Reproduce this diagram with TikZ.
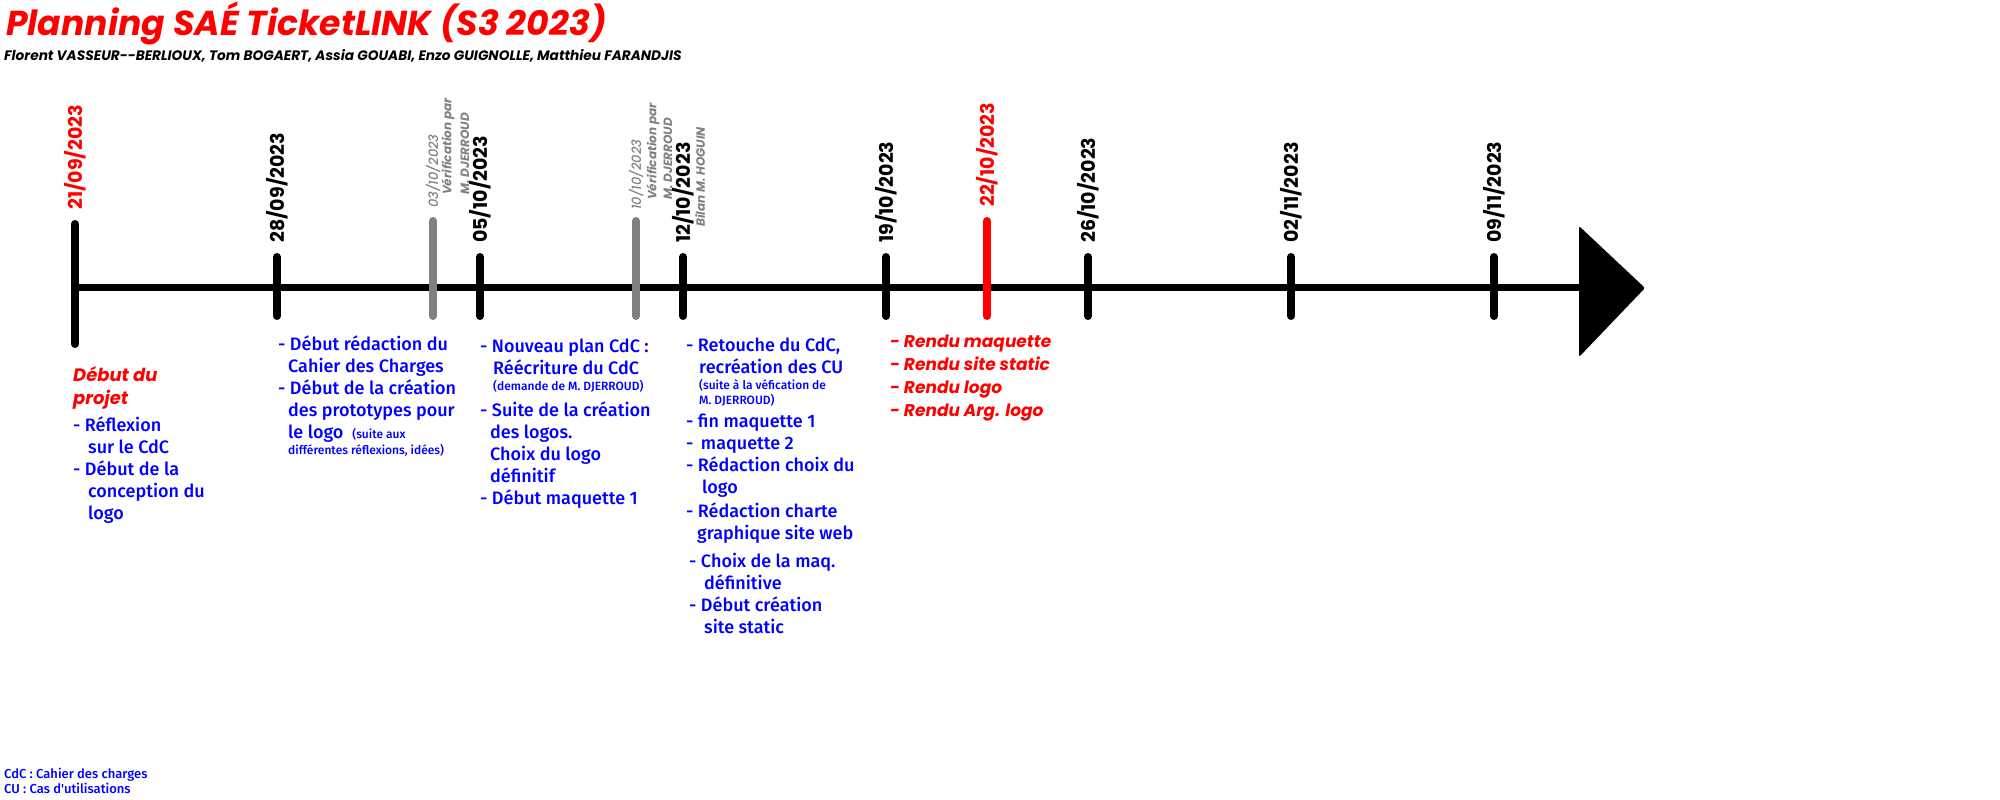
\documentclass[tikz,border=0pt]{standalone}
\usepackage{fontspec}
\setmainfont{Fira Sans Medium}
\newfontfamily\futura{Poppins}
\newfontfamily\futuramed{Poppins Medium}
\newcommand\ind[1][11pt]{\hspace*{#1}}
\begin{document}
\begin{tikzpicture}[x=1pt, y=-1pt,
  axis/.style={line width=7pt, black},
  tick/.style={line width=8pt, line cap=round},
  date/.style={rotate=90, anchor=west, inner sep=0pt, font=\futura\bfseries\fontsize{19}{19}\selectfont},
  note/.style={rotate=90, anchor=west, inner sep=0pt, text=gray, font=\futura\bfseries\itshape\fontsize{12}{12}\selectfont},
  notedate/.style={note, font=\futuramed\itshape\fontsize{13}{13}\selectfont},
  task/.style={anchor=north west, inner sep=0pt, align=left, text=blue, font=\fontsize{18}{22}\selectfont},
  due/.style={anchor=north west, inner sep=0pt, align=left, text=red, font=\futura\bfseries\itshape\fontsize{17}{23}\selectfont}
]
  \useasboundingbox (0,0) rectangle (2000,800);

  % Titre
  \node[anchor=base west, inner sep=0pt, text=red, font=\futura\bfseries\itshape\fontsize{34.6}{34.6}\selectfont]
    (titre) at (6,36) {Planning SAÉ TicketLINK (S3 2023)};
  \node[anchor=base west, inner sep=0pt, font=\futura\bfseries\itshape\fontsize{13.7}{13.7}\selectfont]
    (auteurs) at (4,60) {Florent VASSEUR-{}-BERLIOUX, Tom BOGAERT, Assia GOUABI, Enzo GUIGNOLLE, Matthieu FARANDJIS};

  % Axe
  \draw[axis] (75,287) -- (1582,287);
  \fill[rounded corners=2pt] (1579,226) -- (1645,288) -- (1579,357) -- cycle;

  % Jalons
  \draw[tick] (75,224) -- (75,344);
  \draw[tick] (277,257) -- (277,316);
  \draw[tick, gray] (433,221) -- (433,316);
  \draw[tick] (480,257) -- (480,316);
  \draw[tick, gray] (636,221) -- (636,316);
  \draw[tick] (683,257) -- (683,316);
  \draw[tick] (886,257) -- (886,316);
  \draw[tick, red] (987,221) -- (987,316);
  \draw[tick] (1088,257) -- (1088,316);
  \draw[tick] (1291,257) -- (1291,316);
  \draw[tick] (1494,257) -- (1494,316);

  % Dates
  \node[date, text=red] (d2109) at (75,210) {21/09/2023};
  \node[date] (d2809) at (277,243) {28/09/2023};
  \node[date] (d0510) at (480,243) {05/10/2023};
  \node[date] (d1210) at (683,243) {12/10/2023};
  \node[date] (d1910) at (886,243) {19/10/2023};
  \node[date, text=red] (d2210) at (987,207) {22/10/2023};
  \node[date] (d2610) at (1088,243) {26/10/2023};
  \node[date] (d0211) at (1291,243) {02/11/2023};
  \node[date] (d0911) at (1494,243) {09/11/2023};

  % Verifications
  \node[notedate] (v0310) at (433,208) {03/10/2023};
  \node[note] (v0310a) at (448,195) {Vérification par};
  \node[note] (v0310b) at (465,195) {M. DJERROUD};
  \node[notedate] (v1010) at (636,210) {10/10/2023};
  \node[note] (v1010a) at (653,200) {Vérification par};
  \node[note] (v1010b) at (668,200) {M. DJERROUD};
  \node[note] (bilan) at (700,227) {Bilan M. HOGUIN};

  % Taches
  \node[due, font=\futura\bfseries\itshape\fontsize{18}{23}\selectfont] (debut) at (73,366) {Début du\\projet};
  \node[task] (t2109) at (73,417) {- Réflexion\\
    \ind[15pt]sur le CdC\\
    - Début de la\\
    \ind[15pt]conception du\\
    \ind[15pt]logo};
  \node[task] (t2809) at (278,336) {- Début rédaction du\\
    \ind[10pt]Cahier des Charges\\
    - Début de la création\\
    \ind[10pt]des prototypes pour\\
    \ind[10pt]le logo~~{\fontsize{12}{12}\selectfont(suite aux}\\[-6pt]
    \ind[10pt]{\fontsize{12}{12}\selectfont différentes réflexions, idées)}};
  \node[task] (t0510) at (480,339) {- Nouveau plan CdC :\\
    \ind[13pt]Réécriture du CdC\\[-6pt]
    \ind[13pt]{\fontsize{12}{12}\selectfont(demande de M. DJERROUD)}\\[4pt]
    - Suite de la création\\
    \ind[10pt]des logos.\\
    \ind[10pt]Choix du logo\\
    \ind[10pt]définitif\\
    - Début maquette 1};
  \node[task] (t1210) at (686,338) {- Retouche du CdC,\\
    \ind[13pt]recréation des CU\\[-6pt]
    \ind[13pt]{\fontsize{12}{12}\selectfont(suite à la véfication de}\\[-7pt]
    \ind[13pt]{\fontsize{12}{12}\selectfont M. DJERROUD)}\\[1pt]
    - fin maquette 1\\
    - \,maquette 2\\
    - Rédaction choix du\\
    \ind[16pt]logo\\[2pt]
    - Rédaction charte\\
    \ind[11pt]graphique site web\\[6pt]
    \ind[3pt]- Choix de la maq.\\
    \ind[18pt]définitive\\
    \ind[3pt]- Début création\\
    \ind[18pt]site static};
  \node[due] (rendu) at (890,335) {- Rendu maquette\\- Rendu site static\\- Rendu logo\\- Rendu Arg. logo};

  % Legende
  \node[anchor=north west, inner sep=0pt, align=left, text=blue, font=\fontsize{13}{15}\selectfont]
    (legende) at (4,768) {CdC : Cahier des charges\\CU : Cas d\textquotesingle utilisations};
\end{tikzpicture}
\end{document}
